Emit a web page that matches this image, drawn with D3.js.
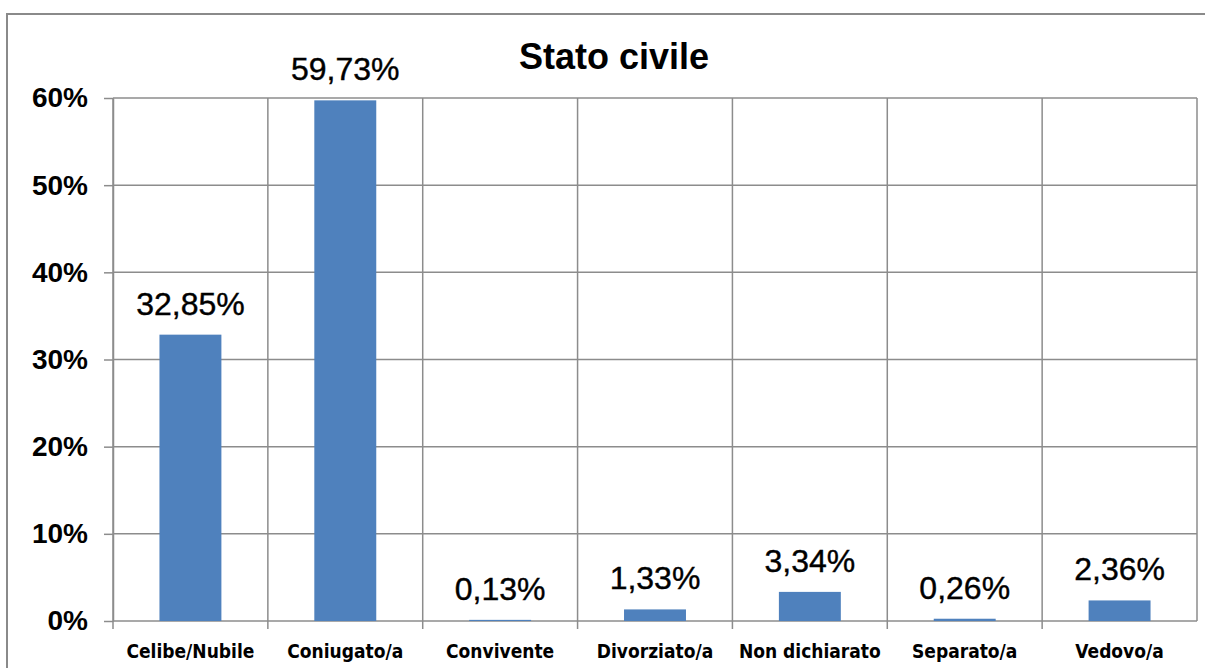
<!DOCTYPE html>
<html>
<head>
<meta charset="utf-8">
<script src="https://cdn.jsdelivr.net/npm/d3@7"></script>
<style>
  html, body { margin: 0; padding: 0; background: #fff; }
  svg { display: block; }
</style>
</head>
<body>
<svg id="chart" width="1205" height="668"></svg>
<script>
const categories = ["Celibe/Nubile", "Coniugato/a", "Convivente", "Divorziato/a", "Non dichiarato", "Separato/a", "Vedovo/a"];
const values = [32.85, 59.73, 0.13, 1.33, 3.34, 0.26, 2.36];
const valueLabels = ["32,85%", "59,73%", "0,13%", "1,33%", "3,34%", "0,26%", "2,36%"];
const yTicks = [0, 10, 20, 30, 40, 50, 60];
const title = "Stato civile";

(function () {
const svg = d3.select("#chart");
const W = 1205, H = 668;
const pLeft = 113, pRight = 1197, pTop = 98, pBottom = 621;
const gridColor = "#8c8c8c";

// outer border
svg.append("path")
  .attr("d", `M${W + 5},14 H7 V${H + 5}`)
  .attr("fill", "none").attr("stroke", "#8a8a8a").attr("stroke-width", 2);

const x = d3.scaleBand().domain(categories).range([pLeft, pRight]).paddingInner(0).paddingOuter(0);
const y = d3.scaleLinear().domain([0, 60]).range([pBottom, pTop]);

// y axis
const yAxis = d3.axisLeft(y).tickValues(yTicks).tickSize(9).tickSizeOuter(0).tickFormat(d => d + "%").tickPadding(16);
const gy = svg.append("g").attr("transform", `translate(${pLeft},0)`).call(yAxis);
gy.select(".domain").attr("stroke", gridColor).attr("stroke-width", 1.5);
gy.selectAll(".tick line").attr("stroke", gridColor).attr("stroke-width", 1.5);
gy.selectAll(".tick text")
  .attr("fill", "#000")
  .style("font-family", "Arial, 'Liberation Sans', sans-serif")
  .style("font-weight", "bold")
  .style("font-size", "28px");

// horizontal gridlines
svg.append("g").selectAll("line").data(yTicks).join("line")
  .attr("x1", pLeft).attr("x2", pRight)
  .attr("y1", d => y(d)).attr("y2", d => y(d))
  .attr("stroke", gridColor).attr("stroke-width", 1.5);

// vertical gridlines at category boundaries
const bounds = categories.map(c => x(c)).concat([pRight]);
svg.append("g").selectAll("line").data(bounds).join("line")
  .attr("x1", d => d).attr("x2", d => d)
  .attr("y1", pTop).attr("y2", (d, i) => i === bounds.length - 1 ? pBottom : pBottom + 8)
  .attr("stroke", gridColor).attr("stroke-width", 1.5);

// bars
const barW = x.bandwidth() * 0.4;
svg.append("g").selectAll("rect").data(values).join("rect")
  .attr("x", (d, i) => x(categories[i]) + (x.bandwidth() - barW) / 2)
  .attr("width", barW)
  .attr("y", d => y(d))
  .attr("height", d => y(0) - y(d))
  .attr("fill", "#4F81BD");

// data labels
svg.append("g").selectAll("text").data(values).join("text")
  .attr("x", (d, i) => x(categories[i]) + x.bandwidth() / 2)
  .attr("y", d => y(d) - 20)
  .attr("text-anchor", "middle")
  .style("font-family", "Arial, 'Liberation Sans', sans-serif")
  .style("font-size", "32px")
  .attr("fill", "#000")
  .attr("stroke", "#000").attr("stroke-width", 0.4)
  .text((d, i) => valueLabels[i]);

// x labels
svg.append("g").selectAll("text").data(categories).join("text")
  .attr("x", d => x(d) + x.bandwidth() / 2)
  .attr("y", 658)
  .attr("text-anchor", "middle")
  .style("font-family", "'DejaVu Sans Condensed', 'DejaVu Sans', sans-serif")
  .style("font-stretch", "condensed")
  .style("font-weight", "bold")
  .style("font-size", "19px")
  .attr("fill", "#000")
  .text(d => d);

// title
svg.append("text")
  .attr("x", 614).attr("y", 69)
  .attr("text-anchor", "middle")
  .style("font-family", "Arial, 'Liberation Sans', sans-serif")
  .style("font-weight", "bold")
  .style("font-size", "36px")
  .attr("fill", "#000")
  .text(title);
})();
</script>
</body>
</html>
